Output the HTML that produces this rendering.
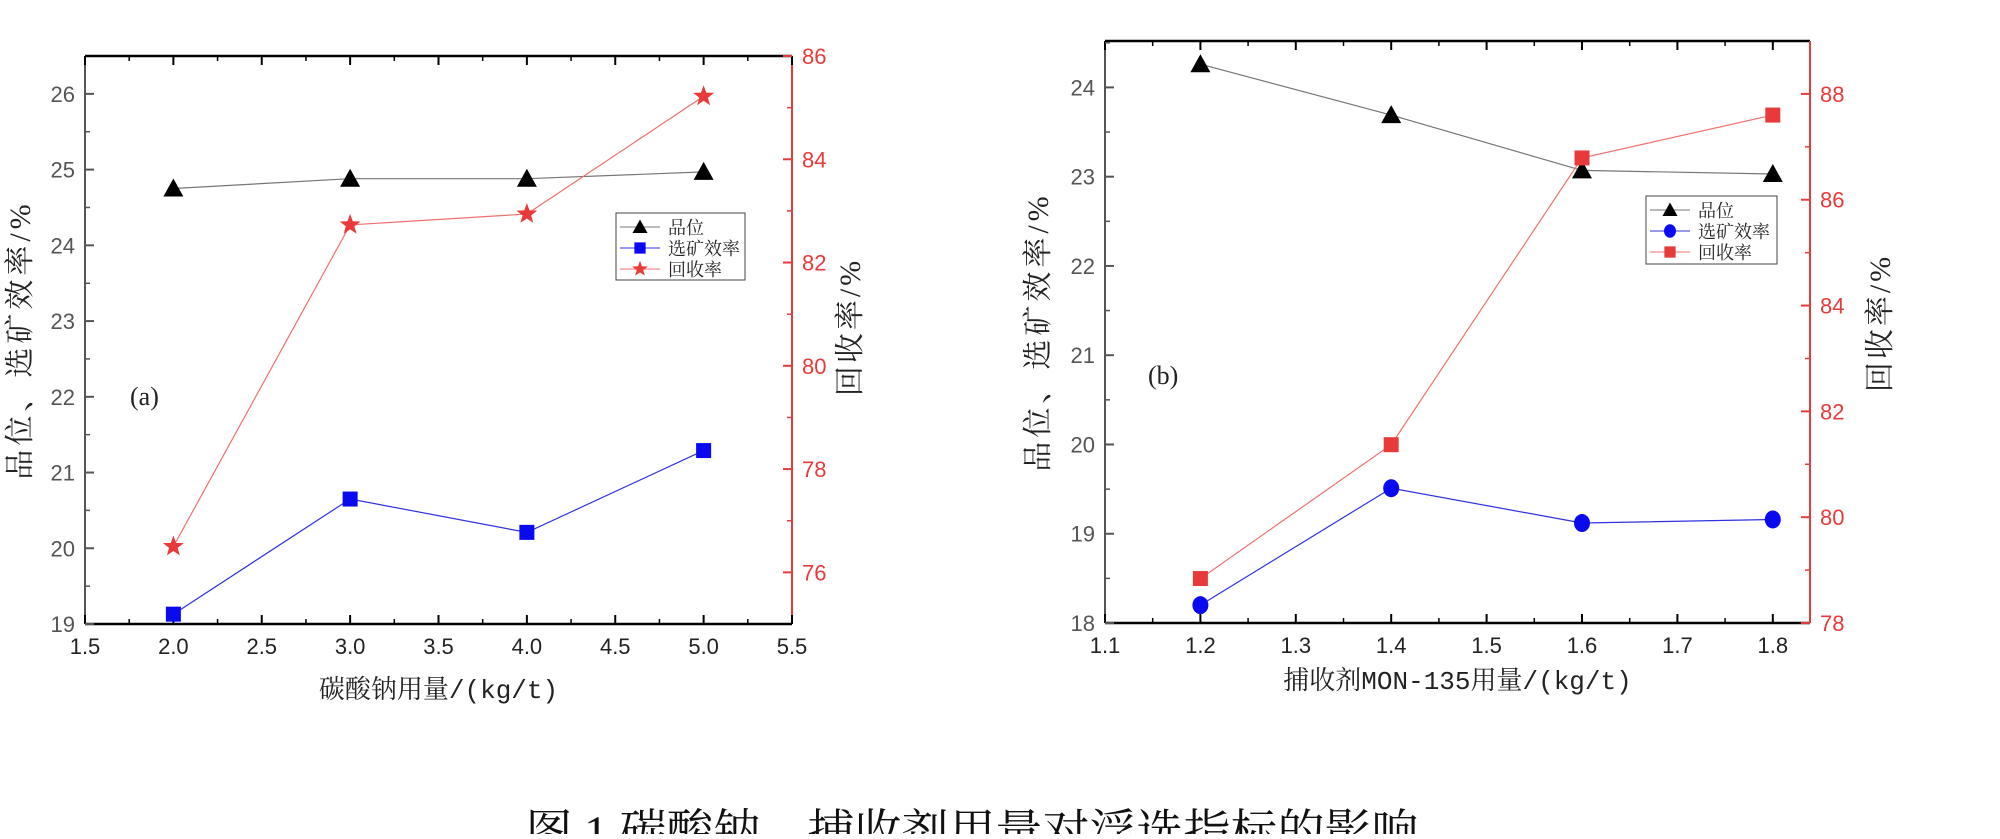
<!DOCTYPE html>
<html><head><meta charset="utf-8">
<style>
html,body{margin:0;padding:0;background:#fff;}
svg text{font-family:"Liberation Sans","Noto Sans CJK SC",sans-serif;}
.cjk{font-family:"Liberation Serif","Noto Serif CJK SC",serif;}
.mono{font-family:"Liberation Mono","Noto Serif CJK SC",monospace;}
</style></head>
<body>
<svg id="fig" width="2000" height="834" xmlns="http://www.w3.org/2000/svg">
<text class="cjk" x="972" y="848" font-size="47" text-anchor="middle" fill="#111">图 1 碳酸钠、捕收剂用量对浮选指标的影响</text>
</svg>
<script>
// chart (a)
const aX = [2.0, 3.0, 4.0, 5.0];
const aGrade = [24.75, 24.88, 24.88, 24.97];
const aEff = [19.13, 20.65, 20.21, 21.29];
const aRec = [76.5, 82.73, 82.94, 85.22];
const aXTicks = ['1.5','2.0','2.5','3.0','3.5','4.0','4.5','5.0','5.5'];
const aLTicks = ['19','20','21','22','23','24','25','26'];
const aRTicks = ['76','78','80','82','84','86'];
// chart (b)
const bX = [1.2, 1.4, 1.6, 1.8];
const bGrade = [24.26, 23.69, 23.07, 23.03];
const bEff = [18.2, 19.51, 19.12, 19.16];
const bRec = [78.84, 81.37, 86.79, 87.6];
const bXTicks = ['1.1','1.2','1.3','1.4','1.5','1.6','1.7','1.8'];
const bLTicks = ['18','19','20','21','22','23','24'];
const bRTicks = ['78','80','82','84','86','88'];

const NS='http://www.w3.org/2000/svg';
const svg=document.getElementById('fig');
const RED='#e83a3a';
function mk(tag,attrs,parent,text){const e=document.createElementNS(NS,tag);for(const k in attrs)e.setAttribute(k,attrs[k]);if(text!==undefined)e.textContent=text;(parent||svg).appendChild(e);return e;}

function marker(g,type,x,y,color){
  let e;
  if(type==='tri'){e=mk('polygon',{points:`${x},${y-10} ${x-10},${y+8} ${x+10},${y+8}`,fill:color},g);}
  else if(type==='sq'){e=mk('rect',{x:x-7.5,y:y-7.5,width:15,height:15,fill:color},g);}
  else if(type==='circ'){e=mk('ellipse',{cx:x,cy:y,rx:8,ry:9,fill:color},g);}
  else {let p=[];for(let i=0;i<10;i++){const r=i%2?4.5:11;const a=-Math.PI/2+i*Math.PI/5;p.push((x+r*Math.cos(a)).toFixed(1)+','+(y+r*Math.sin(a)).toFixed(1));}
    e=mk('polygon',{points:p.join(' '),fill:color},g);}
  return e;
}

function chart(c){
  const g=mk('g',{});
  
  
  const {L,R,T,B}=c;
  const sx=v=>L+(v-c.xmin)/(c.xmax-c.xmin)*(R-L);
  const sl=v=>B-(v-c.lmin)/(c.lmax-c.lmin)*(B-T);
  const sr=v=>B-(v-c.rmin)/(c.rmax-c.rmin)*(B-T);
  mk('line',{x1:L,y1:T,x2:R,y2:T,stroke:'#000','stroke-width':2.5},g);
  mk('line',{x1:L,y1:B,x2:R,y2:B,stroke:'#000','stroke-width':2.5},g);
  const la=mk('line',{x1:L,y1:T,x2:L,y2:B,stroke:'#555','stroke-width':2},g);
  
  const ra=mk('line',{x1:R,y1:T,x2:R,y2:B,stroke:RED,'stroke-width':2},g);
  
  c.xt.forEach((t,i)=>{const v=parseFloat(t);const x=sx(v);
    mk('line',{x1:x,y1:B,x2:x,y2:B-9,stroke:'#000','stroke-width':2},g);
    mk('line',{x1:x,y1:T,x2:x,y2:T+9,stroke:'#000','stroke-width':2},g);
    const m=v+c.xstep/2; if(m<c.xmax){const xm=sx(m);
      mk('line',{x1:xm,y1:B,x2:xm,y2:B-5,stroke:'#000','stroke-width':1.5},g);
      mk('line',{x1:xm,y1:T,x2:xm,y2:T+5,stroke:'#000','stroke-width':1.5},g);}
    const tx=mk('text',{x:x,y:B+30,'font-size':22,'text-anchor':'middle',fill:'#222'},g,t);
    
  });
  c.lt.forEach(t=>{const v=parseFloat(t);const y=sl(v);
    mk('line',{x1:L,y1:y,x2:L+9,y2:y,stroke:'#555','stroke-width':2},g);
    if(v+0.5<c.lmax) mk('line',{x1:L,y1:sl(v+0.5),x2:L+5,y2:sl(v+0.5),stroke:'#555','stroke-width':1.5},g);
    const tx=mk('text',{x:L-10,y:y+8,'font-size':22,'text-anchor':'end',fill:'#555'},g,t);
    
  });
  c.rt.forEach(t=>{const v=parseFloat(t);const y=sr(v);
    mk('line',{x1:R,y1:y,x2:R-9,y2:y,stroke:RED,'stroke-width':2},g);
    if(v+1<c.rmax) mk('line',{x1:R,y1:sr(v+1),x2:R-5,y2:sr(v+1),stroke:RED,'stroke-width':1.5},g);
    if(v-1>c.rmin && t===c.rt[0]) mk('line',{x1:R,y1:sr(v-1),x2:R-5,y2:sr(v-1),stroke:RED,'stroke-width':1.5},g);
    const tx=mk('text',{x:R+10,y:y+8,'font-size':22,'text-anchor':'start',fill:RED},g,t);
    
  });
  const series=[
    {vals:c.grade,sc:sl,color:'#000',line:'#777',m:'tri',name:'grade'},
    {vals:c.eff,sc:sl,color:'#0a0af0',line:'#3030e0',m:c.effM,name:'efficiency'},
    {vals:c.rec,sc:sr,color:RED,line:'#f07070',m:c.recM,name:'recovery'}];
  series.forEach(s=>{
    const pts=c.x.map((xv,i)=>sx(xv).toFixed(1)+','+s.sc(s.vals[i]).toFixed(1)).join(' ');
    const pl=mk('polyline',{points:pts,fill:'none',stroke:s.line,'stroke-width':1.2},g);
    
    c.x.forEach((xv,i)=>{const e=marker(g,s.m,sx(xv),s.sc(s.vals[i]),s.color);
      });
  });
  const lg=mk('g',{},g);
  
  mk('rect',{x:c.lx,y:c.ly,width:c.lw,height:c.lh,fill:'#fff',stroke:'#444','stroke-width':1},lg);
  const labels=['品位','选矿效率','回收率'];
  series.forEach((s,i)=>{const yy=c.ly+14+i*21;
    const en=mk('g',{},lg);
    
    mk('line',{x1:c.lx+4,y1:yy,x2:c.lx+44,y2:yy,stroke:s.line,'stroke-width':1},en);
    const mm=marker(en,s.m,c.lx+24,yy,s.color);mm.setAttribute('transform',`translate(${c.lx+24},${yy}) scale(0.75) translate(${-(c.lx+24)},${-yy})`);
    mk('text',{class:'cjk',x:c.lx+52,y:yy+7,'font-size':18,fill:'#222'},en,labels[i]);
  });
  const xt=mk('text',{class:'mono',x:(L+R)/2,y:c.xty,'font-size':26,'text-anchor':'middle',fill:'#222'},g,c.xtitle);
  
  const yl=mk('text',{class:'cjk',x:0,y:0,'font-size':30,'letter-spacing':4,'text-anchor':'middle',fill:'#222',transform:`translate(${c.ylx},${(T+B)/2}) rotate(-90)`},g,'品位、选矿效率/%');
  
  const yr=mk('text',{class:'cjk',x:0,y:0,'font-size':30,'letter-spacing':3,'text-anchor':'middle',fill:'#222',transform:`translate(${c.yrx},${c.yry}) rotate(-90)`},g,'回收率/%');
  
  const pl=mk('text',{class:'cjk',x:c.plx,y:c.ply,'font-size':26,fill:'#222'},g,c.panel);
  
}

chart({name:'chart-a',L:85,R:792,T:56,B:624,xmin:1.5,xmax:5.5,xstep:0.5,lmin:19,lmax:26.5,rmin:75,rmax:86,
  x:aX,grade:aGrade,eff:aEff,rec:aRec,xt:aXTicks,lt:aLTicks,rt:aRTicks,effM:'sq',recM:'star',
  lx:616,ly:213,lw:129,lh:67,xtitle:'碳酸钠用量/(kg/t)',xty:698,ylx:30,yrx:860,yry:327,plx:130,ply:405,panel:'(a)'});
chart({name:'chart-b',L:1105,R:1810,T:41,B:623,xmin:1.1,xmax:1.839,xstep:0.1,lmin:18,lmax:24.52,rmin:78,rmax:89,
  x:bX,grade:bGrade,eff:bEff,rec:bRec,xt:bXTicks,lt:bLTicks,rt:bRTicks,effM:'circ',recM:'sq',
  lx:1646,ly:196,lw:131,lh:68,xtitle:'捕收剂MON-135用量/(kg/t)',xty:689,ylx:1048,yrx:1890,yry:323,plx:1148,ply:384,panel:'(b)'});
</script>
</body></html>
